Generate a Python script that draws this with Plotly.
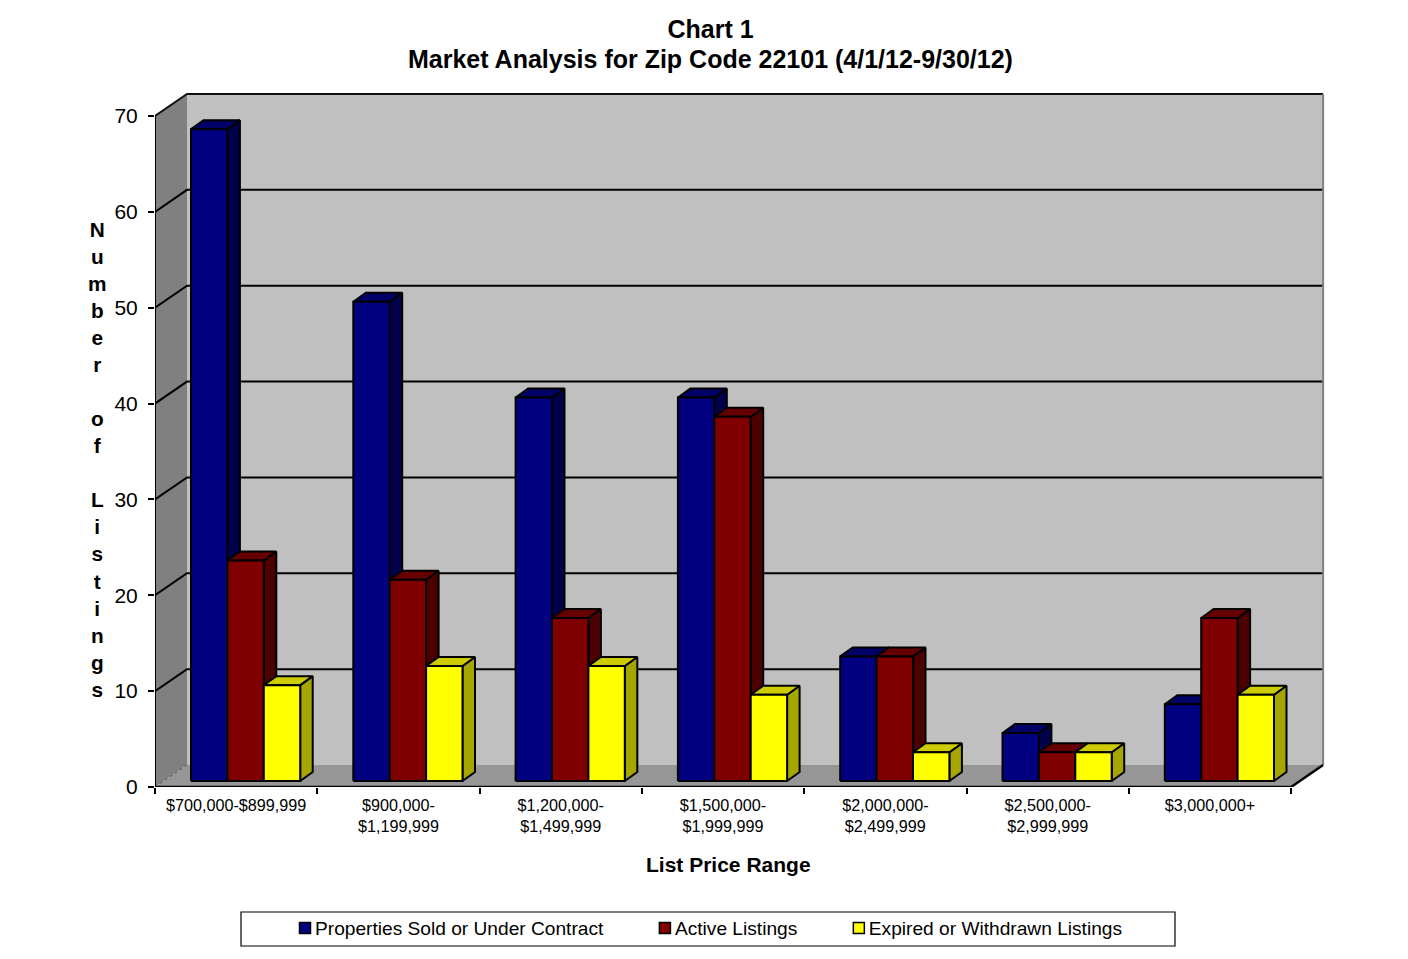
import plotly.graph_objects as go

categories = ["$700,000-$899,999", "$900,000-<br>$1,199,999", "$1,200,000-<br>$1,499,999",
              "$1,500,000-<br>$1,999,999", "$2,000,000-<br>$2,499,999", "$2,500,000-<br>$2,999,999",
              "$3,000,000+"]
sold = [68, 50, 40, 40, 13, 5, 8]
active = [23, 21, 17, 38, 13, 3, 17]
expired = [10, 12, 12, 9, 3, 3, 9]
y_ticks = [0, 10, 20, 30, 40, 50, 60, 70]

series = [
    ("Properties Sold or Under Contract" + "\u00a0" * 5, sold, "#000080", "#000066", "#00004D"),
    ("Active Listings" + "\u00a0" * 5, active, "#800000", "#660000", "#4D0000"),
    ("Expired or Withdrawn Listings", expired, "#FFFF00", "#CCCC00", "#A6A600"),
]

PX_X = 162.3      # pixels per category
PX_Y = 671 / 70   # pixels per unit
WALL_DX, WALL_DY = 32 / PX_X, 22 / PX_Y
BAR_DX, BAR_DY = 12.5 / PX_X, 9 / PX_Y
BAR_BASE = 6 / PX_Y
BAR_START = 36 / PX_X
BAR_W = 36.4 / PX_X
L, B, R_PX, T_PX = 155, 787, 1331, 90
x_max = (R_PX - L) / PX_X
y_max = (B - T_PX) / PX_Y
N = len(categories)

fig = go.Figure()


def poly(xs, ys, fill, line="black", width=2):
    fig.add_trace(go.Scatter(x=xs, y=ys, mode="lines", fill="toself", fillcolor=fill,
                             line=dict(color=line, width=width), showlegend=False,
                             hoverinfo="skip", cliponaxis=False))


def path(xs, ys, color="black", width=2, dash="solid"):
    fig.add_trace(go.Scatter(x=xs, y=ys, mode="lines", line=dict(color=color, width=width, dash=dash),
                             showlegend=False, hoverinfo="skip", cliponaxis=False))


# walls and floor
poly([WALL_DX, N + WALL_DX, N + WALL_DX, WALL_DX, WALL_DX],
     [WALL_DY, WALL_DY, 70 + WALL_DY, 70 + WALL_DY, WALL_DY], "#C0C0C0", "rgba(0,0,0,0)", 0)
poly([0, WALL_DX, WALL_DX, 0, 0], [0, WALL_DY, 70 + WALL_DY, 70, 0], "#808080", "rgba(0,0,0,0)", 0)
poly([0, N, N + WALL_DX, WALL_DX, 0], [0, 0, WALL_DY, WALL_DY, 0], "#969696", "rgba(0,0,0,0)", 0)

# grid lines on the walls
for t in y_ticks[1:-1]:
    path([0, WALL_DX, N + WALL_DX], [t, t + WALL_DY, t + WALL_DY], "black", 2)
path([0, WALL_DX, N + WALL_DX], [70, 70 + WALL_DY, 70 + WALL_DY], "#111111", 2)
path([N + WALL_DX, N + WALL_DX], [WALL_DY, 70 + WALL_DY], "#808080", 2)
path([0, WALL_DX], [0, WALL_DY], "#555555", 1, "dot")

# bars
for s, (name, vals, front, top, side) in enumerate(series):
    sx, sy, tx, ty, fx, fy = [], [], [], [], [], []
    for i, v in enumerate(vals):
        x0 = i + BAR_START + s * BAR_W
        x1 = x0 + BAR_W
        y0, y1 = BAR_BASE, BAR_BASE + v
        sx += [x1, x1 + BAR_DX, x1 + BAR_DX, x1, x1, None]
        sy += [y0, y0 + BAR_DY, y1 + BAR_DY, y1, y0, None]
        tx += [x0, x0 + BAR_DX, x1 + BAR_DX, x1, x0, None]
        ty += [y1, y1 + BAR_DY, y1 + BAR_DY, y1, y1, None]
        fx += [x0, x1, x1, x0, x0, None]
        fy += [y0, y0, y1, y1, y0, None]
    poly(sx, sy, side)
    poly(tx, ty, top)
    poly(fx, fy, front)

# front axis lines
path([0, 0], [0, 70], "black", 2)
path([0, N, N + WALL_DX], [0, 0, WALL_DY], "black", 2.5)

# legend keys
for name, vals, front, top, side in series:
    fig.add_trace(go.Scatter(x=[None], y=[None], mode="markers", name=name,
                             marker=dict(symbol="square", size=11, color=front,
                                         line=dict(color="black", width=1.5))))

plot_w = R_PX - L
plot_h = B - T_PX
legend_box = dict(type="rect", xref="paper", yref="paper", layer="above",
                  x0=(241 - L) / plot_w, x1=(1175 - L) / plot_w,
                  y0=(B - 946) / plot_h, y1=(B - 912) / plot_h,
                  line=dict(color="black", width=1.2), fillcolor="rgba(0,0,0,0)")

ytitle = "<br>".join(list("Number") + [" "] + list("of") + [" "] + list("Listings"))

fig.update_layout(
    width=1408, height=959, autosize=False,
    margin=dict(l=L, r=1408 - R_PX, t=T_PX, b=959 - B, pad=0),
    paper_bgcolor="white", plot_bgcolor="white",
    font=dict(family="Liberation Sans, Arial, sans-serif", color="black"),
    title=dict(text="<b>Chart 1</b>", font=dict(size=25), x=710.5 / 1408, xanchor="center",
               xref="container", y=1 - 29.5 / 959, yanchor="middle", yref="container"),
    showlegend=True,
    legend=dict(orientation="h", x=(275 - L) / plot_w, xanchor="left",
                y=(B - 928) / plot_h, yanchor="middle",
                font=dict(size=19.15), bgcolor="rgba(0,0,0,0)", borderwidth=0,
                itemclick=False, itemdoubleclick=False),
    xaxis=dict(range=[0, x_max], showgrid=False, zeroline=False, showline=False,
               tickmode="array", tickvals=[i + 0.5 for i in range(N)], ticktext=categories,
               ticks="", tickfont=dict(size=16.2), tickangle=0, ticklabelstandoff=7,
               minor=dict(tickmode="array", tickvals=list(range(N + 1)), ticks="outside",
                          ticklen=6, tickwidth=1.5, tickcolor="black", showgrid=False)),
    yaxis=dict(range=[0, y_max], showgrid=False, zeroline=False, showline=False,
               tickmode="array", tickvals=y_ticks, ticks="outside", ticklen=6, tickwidth=1.5,
               tickcolor="black", tickfont=dict(size=21), ticklabelstandoff=6),
    shapes=[legend_box],
    annotations=[
        dict(text="<b>Market Analysis for Zip Code 22101 (4/1/12-9/30/12)</b>",
             xref="paper", yref="paper", x=(710.5 - L) / plot_w, y=(B - 58.5) / plot_h,
             xanchor="center", yanchor="middle", showarrow=False, font=dict(size=25)),
        dict(text="<b>" + ytitle + "</b>", xref="paper", yref="paper",
             x=(97 - L) / plot_w, y=(B - 459.5) / plot_h, xanchor="center", yanchor="middle",
             showarrow=False, align="center", font=dict(size=20.8)),
        dict(text="<b>List Price Range</b>", xref="paper", yref="paper",
             x=(728.5 - L) / plot_w, y=(B - 865) / plot_h, xanchor="center", yanchor="middle",
             showarrow=False, font=dict(size=21)),
    ],
)

fig.write_html("out.html",
               post_script="document.body.style.margin='0';"
                           "document.querySelectorAll('.legend .legendpoints')"
                           ".forEach(function(e){e.setAttribute('transform','translate(10,0)');});",
               config=dict(displayModeBar=False))
